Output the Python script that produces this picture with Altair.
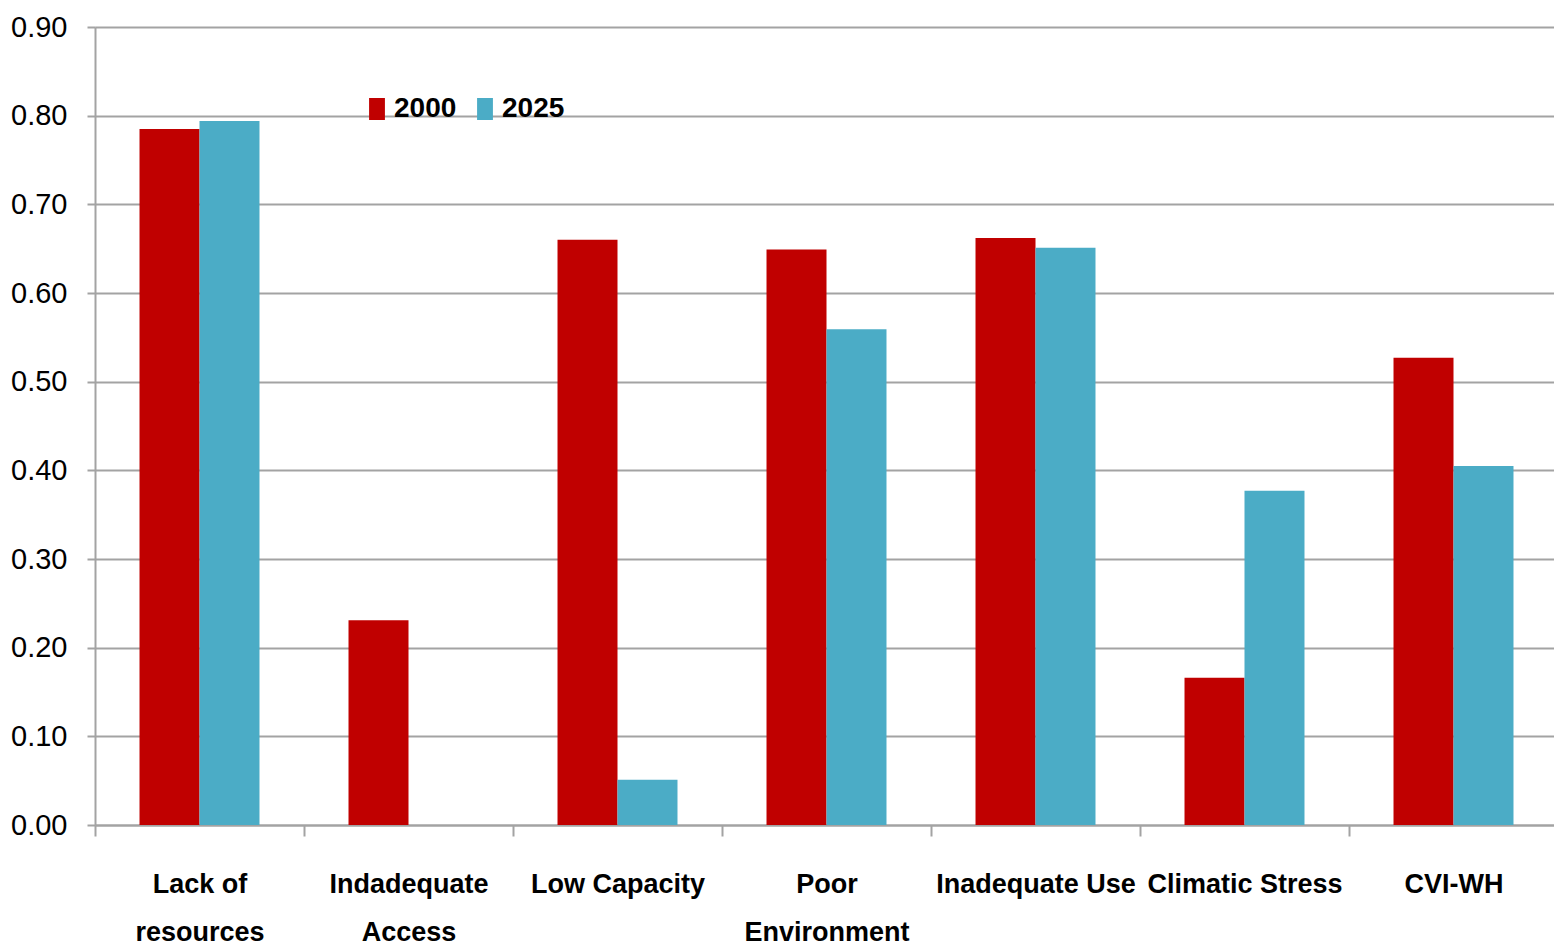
import altair as alt
import pandas as pd

# Indicator categories and scores for the two years
categories = [
    "Lack of resources",
    "Indadequate Access",
    "Low Capacity",
    "Poor Environment",
    "Inadequate Use",
    "Climatic Stress",
    "CVI-WH",
]
values_2000 = [0.785, 0.231, 0.660, 0.649, 0.662, 0.166, 0.527]
values_2025 = [0.794, 0.000, 0.051, 0.559, 0.651, 0.377, 0.405]
years = ["2000", "2025"]
colors = ["#C00000", "#4BACC6"]
y_ticks = [0.0, 0.1, 0.2, 0.3, 0.4, 0.5, 0.6, 0.7, 0.8, 0.9]

# Two-line axis labels for the longer category names
wrapped = {
    "Lack of resources": ["Lack of", "resources"],
    "Indadequate Access": ["Indadequate", "Access"],
    "Poor Environment": ["Poor", "Environment"],
}

rows = []
for cat, v0, v1 in zip(categories, values_2000, values_2025):
    rows.append({"category": cat, "year": years[0], "value": v0})
    rows.append({"category": cat, "year": years[1], "value": v1})
df = pd.DataFrame(rows)

label_expr = ""
for name, lines in wrapped.items():
    parts = ", ".join("'" + s + "'" for s in lines)
    label_expr += f"datum.label == '{name}' ? [{parts}] : "
label_expr += "datum.label"

FONT = "Liberation Sans"
GRID = "#a3a3a3"

chart = (
    alt.Chart(df)
    .mark_bar()
    .encode(
        x=alt.X(
            "category:N",
            sort=categories,
            title=None,
            # the last category runs slightly past the right edge of the view
            scale=alt.Scale(paddingInner=0, paddingOuter=0, range=[0, 1463]),
            axis=alt.Axis(
                labelAngle=0,
                labelExpr=label_expr,
                labelFont=FONT,
                labelFontWeight="bold",
                labelFontSize=27,
                labelLineHeight=48,
                labelColor="black",
                labelPadding=35,
                tickBand="extent",
                tickSize=11,
                tickWidth=2,
                tickColor=GRID,
                domainColor=GRID,
                domainWidth=2,
                grid=False,
                labelLimit=400,
            ),
        ),
        xOffset=alt.XOffset(
            "year:N",
            sort=years,
            scale=alt.Scale(paddingInner=0, paddingOuter=0.742),
        ),
        y=alt.Y(
            "value:Q",
            title=None,
            scale=alt.Scale(domain=[0, 0.9], nice=False),
            axis=alt.Axis(
                values=y_ticks,
                format=".2f",
                labelFont=FONT,
                labelFontSize=29,
                labelColor="black",
                labelPadding=20,
                tickSize=8,
                tickWidth=2,
                tickColor=GRID,
                domainColor=GRID,
                domainWidth=2,
                gridColor=GRID,
                gridWidth=2,
            ),
        ),
        color=alt.Color(
            "year:N",
            scale=alt.Scale(domain=years, range=colors),
            legend=alt.Legend(
                title=None,
                orient="none",
                legendX=268,
                legendY=68,
                direction="horizontal",
                symbolType="M-0.72,-1L0.72,-1L0.72,1L-0.72,1Z",
                symbolSize=484,
                symbolStrokeWidth=0,
                labelFont=FONT,
                labelFontWeight="bold",
                labelFontSize=28,
                labelColor="black",
                labelOffset=3,
                columnPadding=14,
                padding=0,
            ),
        ),
    )
    .properties(
        width=1459,
        height=798,
        autosize=alt.AutoSizeParams(type="none"),
        padding={"left": 95, "top": 27, "right": 0, "bottom": 123},
    )
    .configure_view(stroke=None)
    .configure(background="white")
)

chart.save("out.html", embed_options={"renderer": "svg", "actions": False})
